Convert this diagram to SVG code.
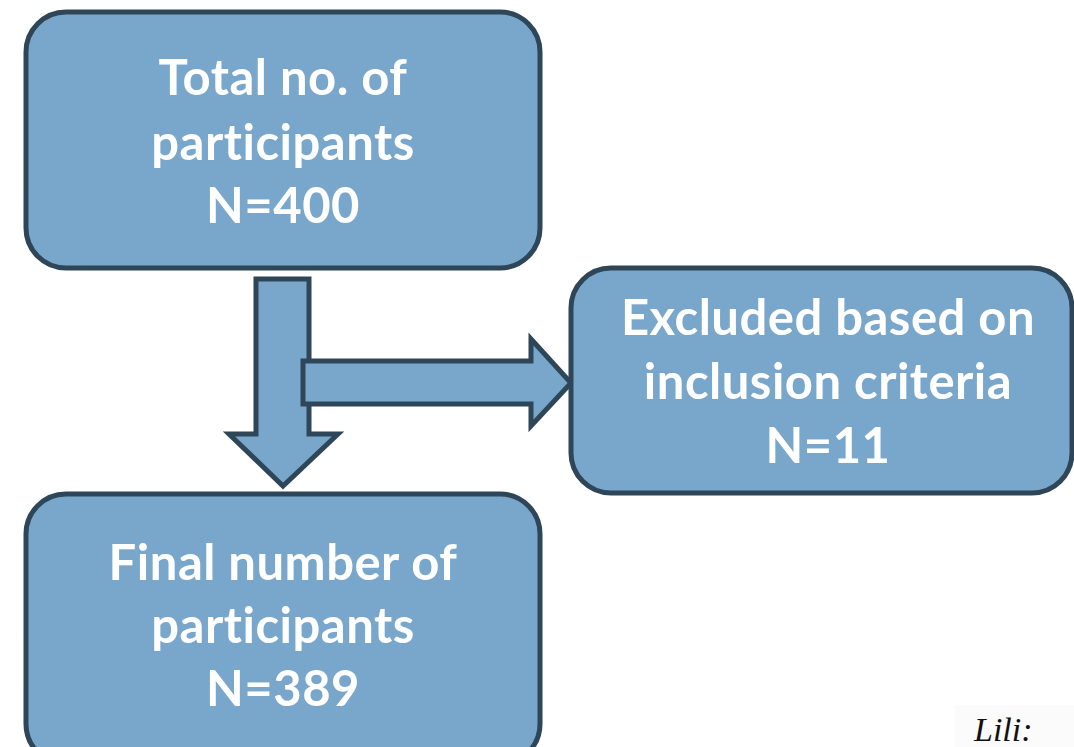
<svg xmlns="http://www.w3.org/2000/svg" width="1074" height="747" viewBox="0 0 1074 747">
<style>
.box{fill:#78A7CB;stroke:#2F4659;stroke-width:5}
.arr{fill:#78A7CB;stroke:#2F4659;stroke-width:5;stroke-linejoin:miter}
.t{font-family:Lato,"Open Sans",sans-serif;font-weight:700;font-size:49px;letter-spacing:0.5px;font-variant-ligatures:none;fill:#fff;text-anchor:middle}
.sig{font-family:"Liberation Serif",serif;font-style:italic;font-size:34px;fill:#111}
</style>
<rect width="1074" height="747" fill="#fff"/>
<g id="connectors">
<polygon class="arr" points="256,279 309,279 309,434 338,434 283,486 229,434 256,434"/>
<polygon class="arr" points="303,361 531,361 531,339 571,383 531,426 531,404 303,404"/>
</g>
<g id="node-total">
<rect class="box" x="26" y="12" width="514" height="256" rx="40"/>
<text class="t" x="283" y="95">Total no. of</text>
<text class="t" x="283" y="160">participants</text>
<text class="t" x="283" y="223">N=400</text>
</g>
<g id="node-excluded">
<rect class="box" x="571" y="268" width="501" height="225" rx="40"/>
<text class="t" x="828" y="335">Excluded based on</text>
<text class="t" x="828" y="399">inclusion criteria</text>
<text class="t" x="828" y="463">N=11</text>
</g>
<g id="node-final">
<rect class="box" x="26" y="494" width="514" height="270" rx="40"/>
<text class="t" x="283" y="580">Final number of</text>
<text class="t" x="283" y="643">participants</text>
<text class="t" x="283" y="706">N=389</text>
</g>
<g id="signature">
<rect x="955" y="705" width="119" height="42" fill="#fbfbfb"/>
<text class="sig" x="974" y="741">Lili:</text>
</g>
</svg>
